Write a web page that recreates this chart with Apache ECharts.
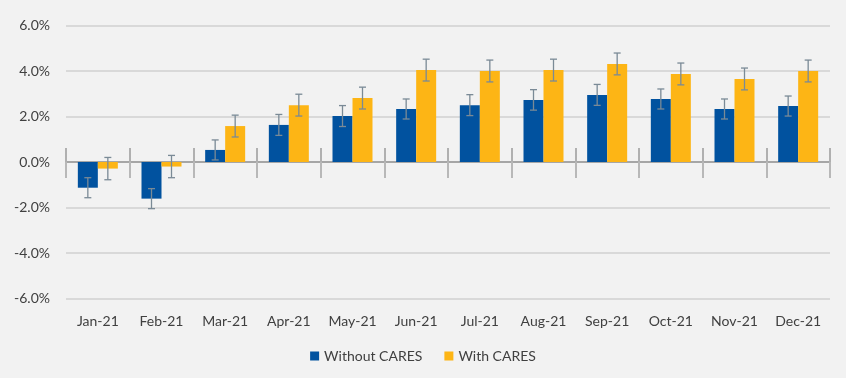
<!DOCTYPE html>
<html><head><meta charset="utf-8">
<script src="https://cdn.jsdelivr.net/npm/echarts@6/dist/echarts.min.js"></script>
<style>html,body{margin:0;padding:0;background:#f2f2f2}#c{width:846px;height:378px}</style>
</head><body><div id="c"></div>
<script>
const categories = ['Jan-21','Feb-21','Mar-21','Apr-21','May-21','Jun-21','Jul-21','Aug-21','Sep-21','Oct-21','Nov-21','Dec-21'];
const withoutCares = [-1.13,-1.61,0.53,1.63,2.02,2.33,2.50,2.73,2.95,2.77,2.33,2.46];
const withCares = [-0.29,-0.20,1.58,2.50,2.81,4.04,4.00,4.04,4.31,3.87,3.65,4.00];
const withoutErr = [0.44,0.44,0.44,0.46,0.46,0.44,0.46,0.45,0.46,0.44,0.44,0.44];
const withErr = [0.49,0.49,0.48,0.48,0.48,0.48,0.48,0.48,0.48,0.48,0.48,0.48];
const yTicks = [-6,-4,-2,0,2,4,6];

const font = 'Lato, "Open Sans", sans-serif';
const chart = echarts.init(document.getElementById('c'));

function errData(vals, errs){ return vals.map((v,i)=>[i, v-errs[i], v+errs[i]]); }
function errRender(offset){
  return function(params, api){
    const i = api.value(0);
    const lo = api.coord([i, api.value(1)]);
    const hi = api.coord([i, api.value(2)]);
    const x = lo[0] + offset;
    const cap = 3.5;
    const style = {stroke:'#7a8a96', lineWidth:1.3};
    return {type:'group', children:[
      {type:'line', shape:{x1:x,y1:lo[1],x2:x,y2:hi[1]}, style},
      {type:'line', shape:{x1:x-cap,y1:lo[1],x2:x+cap,y2:lo[1]}, style},
      {type:'line', shape:{x1:x-cap,y1:hi[1],x2:x+cap,y2:hi[1]}, style}
    ]};
  };
}

const gridRect = {left:66,right:16,top:25.5,bottom:79.5};
const zeroLine = {show:true,onZero:true,lineStyle:{color:'#a6a6a6',width:2}};
const hiddenY = (gi)=>({type:'value',gridIndex:gi,min:-6,max:6,interval:2,show:false,splitLine:{show:false}});
chart.setOption({
  backgroundColor:'#f2f2f2',
  animation:false,
  grid:[gridRect, gridRect, gridRect],
  legend:{
    bottom:10, left:'center', itemWidth:9, itemHeight:9, itemGap:22, icon:'rect',
    textStyle:{fontFamily:font,fontSize:14,color:'#404040'},
    data:['Without CARES','With CARES']
  },
  xAxis:[
    {type:'category',gridIndex:0,data:categories,position:'bottom',axisLine:{show:false,onZero:false},axisTick:{show:false},
     axisLabel:{fontFamily:font,fontSize:14,color:'#404040',margin:16}},
    {type:'category',gridIndex:1,data:categories,position:'bottom',axisLine:zeroLine,
     axisTick:{show:true,inside:true,length:14,lineStyle:{color:'#b0b0b0',width:2}},axisLabel:{show:false}},
    {type:'category',gridIndex:2,data:categories,position:'bottom',axisLine:zeroLine,
     axisTick:{show:true,inside:false,length:16,lineStyle:{color:'#b8b8b8',width:2}},axisLabel:{show:false}}
  ],
  yAxis:[{type:'value',gridIndex:0,min:-6,max:6,interval:2,
    axisLine:{show:false},axisTick:{show:false},
    splitLine:{lineStyle:{color:'#d9d9d9',width:2}},
    axisLabel:{fontFamily:font,fontSize:14,color:'#404040',margin:16,
      formatter:v=> yTicks.includes(v) ? v.toFixed(1)+'%' : ''}
  }, hiddenY(1), hiddenY(2)],
  series:[
    {name:'Without CARES',type:'bar',data:withoutCares,barWidth:20,barGap:'0%',itemStyle:{color:'#01529f'}},
    {name:'With CARES',type:'bar',data:withCares,barWidth:20,barGap:'0%',itemStyle:{color:'#fdb515'}},
    {type:'custom',renderItem:errRender(-10),data:errData(withoutCares,withoutErr),z:5,silent:true},
    {type:'custom',renderItem:errRender(10),data:errData(withCares,withErr),z:5,silent:true}
  ]
});
</script></body></html>
